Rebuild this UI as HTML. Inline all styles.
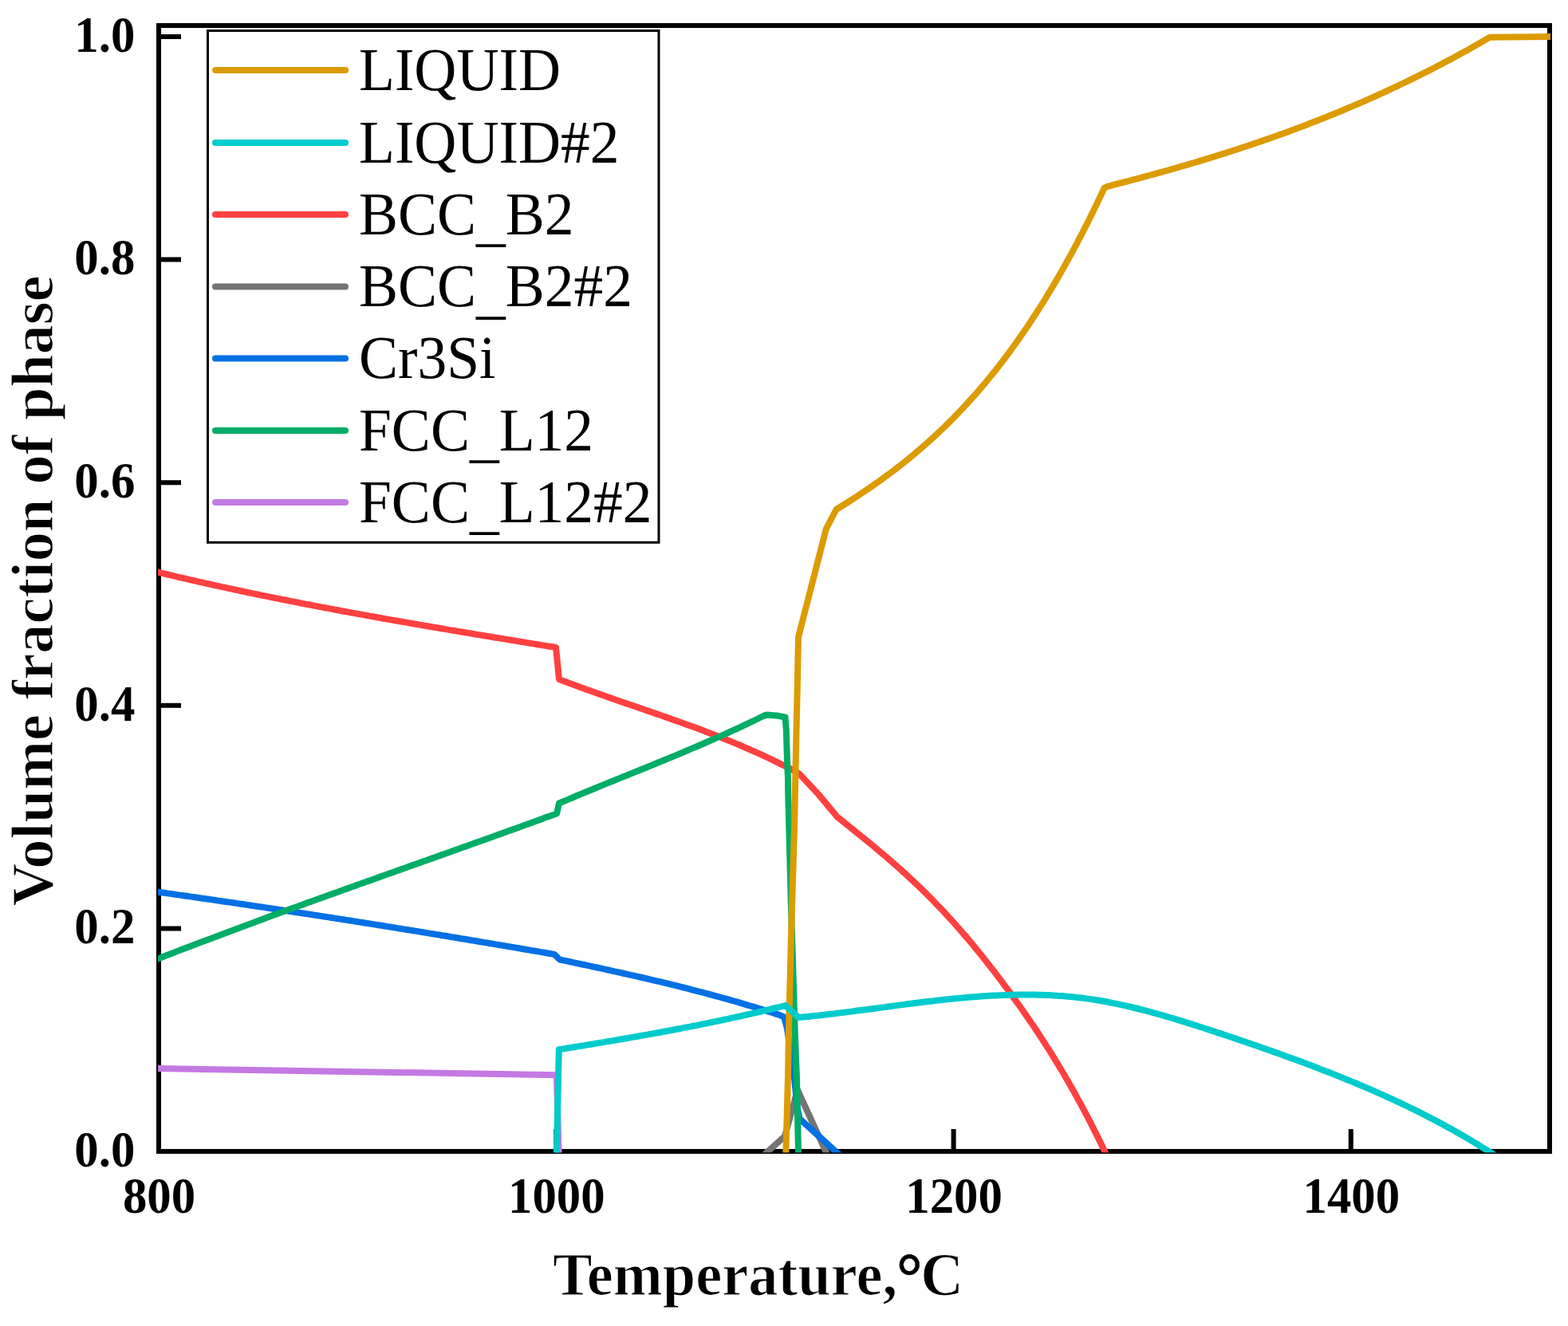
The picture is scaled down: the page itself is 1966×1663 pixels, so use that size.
<!DOCTYPE html><html><head><meta charset="utf-8"><style>html,body{margin:0;padding:0;background:#fff}svg{display:block}</style></head><body><svg width="1966" height="1663" viewBox="0 0 1966 1663">
<rect x="0" y="0" width="1966" height="1663" fill="#fff"/>
<rect x="199" y="32" width="1744" height="1412" fill="none" stroke="#000" stroke-width="6"/>
<path d="M199,1164.4 H227 M199,884.8 H227 M199,605.2 H227 M199,325.6 H227 M199,46.0 H227 M697.3,1444 V1416 M1195.6,1444 V1416 M1693.8,1444 V1416" stroke="#000" stroke-width="6" fill="none"/>
<defs><clipPath id="pc"><rect x="198" y="0" width="1746" height="1445.5"/></clipPath></defs><g clip-path="url(#pc)">
<path d="M190.0,715.7 L198.0,717.6 L202.0,718.6 L206.0,719.5 L210.1,720.5 L214.1,721.4 L218.1,722.4 L222.1,723.3 L226.2,724.3 L230.2,725.2 L234.2,726.1 L238.2,727.1 L242.3,728.0 L246.3,728.9 L250.3,729.8 L254.3,730.7 L258.4,731.6 L262.4,732.5 L266.4,733.4 L270.4,734.3 L274.5,735.2 L278.5,736.1 L282.5,736.9 L286.5,737.8 L290.6,738.7 L294.6,739.5 L298.6,740.4 L302.6,741.3 L306.7,742.1 L310.7,743.0 L314.7,743.8 L318.7,744.6 L322.8,745.5 L326.8,746.3 L330.8,747.1 L334.8,747.9 L338.8,748.8 L342.9,749.6 L346.9,750.4 L350.9,751.2 L354.9,752.0 L359.0,752.8 L363.0,753.6 L367.0,754.4 L371.0,755.2 L375.1,756.0 L379.1,756.8 L383.1,757.6 L387.1,758.3 L391.2,759.1 L395.2,759.9 L399.2,760.7 L403.2,761.4 L407.3,762.2 L411.3,762.9 L415.3,763.7 L419.3,764.5 L423.4,765.2 L427.4,766.0 L431.4,766.7 L435.4,767.4 L439.5,768.2 L443.5,768.9 L447.5,769.7 L451.5,770.4 L455.5,771.1 L459.6,771.8 L463.6,772.6 L467.6,773.3 L471.6,774.0 L475.7,774.7 L479.7,775.5 L483.7,776.2 L487.7,776.9 L491.8,777.6 L495.8,778.3 L499.8,779.0 L503.8,779.7 L507.9,780.4 L511.9,781.1 L515.9,781.8 L519.9,782.5 L524.0,783.2 L528.0,783.9 L532.0,784.6 L536.0,785.3 L540.1,786.0 L544.1,786.7 L548.1,787.3 L552.1,788.0 L556.2,788.7 L560.2,789.4 L564.2,790.1 L568.2,790.7 L572.2,791.4 L576.3,792.1 L580.3,792.8 L584.3,793.4 L588.3,794.1 L592.4,794.8 L596.4,795.5 L600.4,796.1 L604.4,796.8 L608.5,797.5 L612.5,798.1 L616.5,798.8 L620.5,799.5 L624.6,800.1 L628.6,800.8 L632.6,801.4 L636.6,802.1 L640.7,802.8 L644.7,803.4 L648.7,804.1 L652.7,804.7 L656.8,805.4 L660.8,806.1 L664.8,806.7 L668.8,807.4 L672.9,808.0 L676.9,808.7 L680.9,809.4 L684.9,810.0 L689.0,810.7 L693.0,811.3 L697.0,812.0 L701.0,851.9 L705.0,853.4 L709.1,855.0 L713.1,856.5 L717.1,858.0 L721.2,859.5 L725.2,861.0 L729.2,862.5 L733.3,863.9 L737.3,865.4 L741.3,866.8 L745.4,868.3 L749.4,869.7 L753.4,871.1 L757.5,872.6 L761.5,874.0 L765.5,875.4 L769.6,876.8 L773.6,878.2 L777.6,879.6 L781.7,881.0 L785.7,882.4 L789.7,883.8 L793.8,885.1 L797.8,886.5 L801.8,887.9 L805.9,889.3 L809.9,890.7 L813.9,892.1 L818.0,893.5 L822.0,894.9 L826.0,896.3 L830.1,897.7 L834.1,899.1 L838.1,900.5 L842.2,901.9 L846.2,903.4 L850.2,904.8 L854.3,906.3 L858.3,907.7 L862.4,909.2 L866.4,910.6 L870.4,912.1 L874.5,913.6 L878.5,915.1 L882.5,916.6 L886.6,918.2 L890.6,919.7 L894.6,921.3 L898.7,922.8 L902.7,924.4 L906.7,926.0 L910.8,927.7 L914.8,929.3 L918.8,930.9 L922.9,932.6 L926.9,934.3 L930.9,936.0 L935.0,937.8 L939.0,939.5 L943.0,941.3 L947.1,943.1 L951.1,944.9 L955.1,946.7 L959.2,948.6 L963.2,950.5 L967.2,952.4 L971.3,954.3 L975.3,956.3 L979.3,958.3 L983.4,960.3 L987.4,962.4 L991.4,964.4 L995.5,966.5 L999.5,968.7 L1003.8,972.2 L1025.5,995.4 L1050.0,1024.8 L1054.0,1027.9 L1058.0,1031.2 L1062.1,1034.4 L1066.1,1037.6 L1070.1,1040.8 L1074.1,1044.1 L1078.2,1047.3 L1082.2,1050.6 L1086.2,1053.9 L1090.2,1057.2 L1094.3,1060.5 L1098.3,1063.8 L1102.3,1067.2 L1106.3,1070.6 L1110.4,1074.0 L1114.4,1077.5 L1118.4,1081.0 L1122.4,1084.5 L1126.5,1088.1 L1130.5,1091.7 L1134.5,1095.3 L1138.5,1099.0 L1142.5,1102.7 L1146.6,1106.5 L1150.6,1110.3 L1154.6,1114.2 L1158.6,1118.1 L1162.7,1122.1 L1166.7,1126.1 L1170.7,1130.2 L1174.7,1134.4 L1178.8,1138.6 L1182.8,1142.8 L1186.8,1147.2 L1190.8,1151.6 L1194.9,1156.0 L1198.9,1160.6 L1202.9,1165.1 L1206.9,1169.8 L1211.0,1174.5 L1215.0,1179.2 L1219.0,1184.0 L1223.0,1188.9 L1227.0,1193.8 L1231.1,1198.8 L1235.1,1203.9 L1239.1,1209.0 L1243.1,1214.1 L1247.2,1219.3 L1251.2,1224.6 L1255.2,1229.9 L1259.2,1235.3 L1263.3,1240.7 L1267.3,1246.2 L1271.3,1251.8 L1275.3,1257.3 L1279.4,1263.0 L1283.4,1268.7 L1287.4,1274.5 L1291.4,1280.4 L1295.5,1286.3 L1299.5,1292.3 L1303.5,1298.4 L1307.5,1304.6 L1311.5,1310.8 L1315.6,1317.2 L1319.6,1323.6 L1323.6,1330.1 L1327.6,1336.8 L1331.7,1343.5 L1335.7,1350.3 L1339.7,1357.3 L1343.7,1364.3 L1347.8,1371.5 L1351.8,1378.8 L1355.8,1386.2 L1359.8,1393.7 L1363.9,1401.4 L1367.9,1409.2 L1371.9,1417.1 L1375.9,1425.1 L1380.0,1433.3 L1384.0,1441.7 L1388.0,1450.2" fill="none" stroke="#FF4040" stroke-width="8" stroke-linejoin="round" stroke-linecap="butt"/>
<path d="M954.0,1452.0 L984.0,1425.0 L1000.0,1367.0 L1039.0,1452.0" fill="none" stroke="#747474" stroke-width="8" stroke-linejoin="round" stroke-linecap="butt"/>
<path d="M190.0,1117.5 L198.0,1118.7 L202.0,1119.2 L206.0,1119.8 L210.0,1120.4 L214.0,1120.9 L218.0,1121.5 L222.0,1122.1 L226.1,1122.6 L230.1,1123.2 L234.1,1123.8 L238.1,1124.4 L242.1,1124.9 L246.1,1125.5 L250.1,1126.1 L254.1,1126.7 L258.1,1127.3 L262.1,1127.8 L266.1,1128.4 L270.1,1129.0 L274.2,1129.6 L278.2,1130.2 L282.2,1130.8 L286.2,1131.4 L290.2,1131.9 L294.2,1132.5 L298.2,1133.1 L302.2,1133.7 L306.2,1134.3 L310.2,1134.9 L314.2,1135.5 L318.2,1136.1 L322.2,1136.7 L326.3,1137.3 L330.3,1137.9 L334.3,1138.5 L338.3,1139.1 L342.3,1139.7 L346.3,1140.3 L350.3,1140.9 L354.3,1141.5 L358.3,1142.1 L362.3,1142.7 L366.3,1143.3 L370.3,1144.0 L374.4,1144.6 L378.4,1145.2 L382.4,1145.8 L386.4,1146.4 L390.4,1147.0 L394.4,1147.6 L398.4,1148.3 L402.4,1148.9 L406.4,1149.5 L410.4,1150.1 L414.4,1150.7 L418.4,1151.4 L422.5,1152.0 L426.5,1152.6 L430.5,1153.2 L434.5,1153.9 L438.5,1154.5 L442.5,1155.1 L446.5,1155.8 L450.5,1156.4 L454.5,1157.0 L458.5,1157.7 L462.5,1158.3 L466.5,1158.9 L470.5,1159.6 L474.6,1160.2 L478.6,1160.8 L482.6,1161.5 L486.6,1162.1 L490.6,1162.8 L494.6,1163.4 L498.6,1164.1 L502.6,1164.7 L506.6,1165.4 L510.6,1166.0 L514.6,1166.6 L518.6,1167.3 L522.7,1167.9 L526.7,1168.6 L530.7,1169.3 L534.7,1169.9 L538.7,1170.6 L542.7,1171.2 L546.7,1171.9 L550.7,1172.5 L554.7,1173.2 L558.7,1173.8 L562.7,1174.5 L566.7,1175.2 L570.8,1175.8 L574.8,1176.5 L578.8,1177.2 L582.8,1177.8 L586.8,1178.5 L590.8,1179.2 L594.8,1179.8 L598.8,1180.5 L602.8,1181.2 L606.8,1181.9 L610.8,1182.5 L614.8,1183.2 L618.8,1183.9 L622.9,1184.6 L626.9,1185.2 L630.9,1185.9 L634.9,1186.6 L638.9,1187.3 L642.9,1187.9 L646.9,1188.6 L650.9,1189.3 L654.9,1190.0 L658.9,1190.7 L662.9,1191.4 L666.9,1192.1 L671.0,1192.8 L675.0,1193.4 L679.0,1194.1 L683.0,1194.8 L687.0,1195.5 L691.0,1196.2 L695.0,1196.9 L701.8,1203.5 L705.8,1204.3 L709.9,1205.2 L713.9,1206.0 L718.0,1206.9 L722.0,1207.8 L726.1,1208.6 L730.1,1209.5 L734.2,1210.3 L738.2,1211.2 L742.3,1212.1 L746.3,1213.0 L750.4,1213.8 L754.4,1214.7 L758.5,1215.6 L762.5,1216.5 L766.6,1217.4 L770.6,1218.3 L774.6,1219.1 L778.7,1220.0 L782.7,1221.0 L786.8,1221.9 L790.8,1222.8 L794.9,1223.7 L798.9,1224.6 L803.0,1225.5 L807.0,1226.5 L811.1,1227.4 L815.1,1228.4 L819.2,1229.3 L823.2,1230.3 L827.3,1231.2 L831.3,1232.2 L835.4,1233.2 L839.4,1234.2 L843.4,1235.2 L847.5,1236.2 L851.5,1237.2 L855.6,1238.2 L859.6,1239.2 L863.7,1240.2 L867.7,1241.3 L871.8,1242.3 L875.8,1243.4 L879.9,1244.4 L883.9,1245.5 L888.0,1246.6 L892.0,1247.7 L896.1,1248.8 L900.1,1249.9 L904.2,1251.0 L908.2,1252.1 L912.2,1253.2 L916.3,1254.4 L920.3,1255.5 L924.4,1256.7 L928.4,1257.9 L932.5,1259.1 L936.5,1260.3 L940.6,1261.5 L944.6,1262.7 L948.7,1263.9 L952.7,1265.2 L956.8,1266.4 L960.8,1267.7 L964.9,1269.0 L968.9,1270.3 L973.0,1271.6 L977.0,1272.9 L983.0,1275.5 L987.0,1290.0 L995.8,1350.0 L999.7,1389.0 L1002.5,1403.0 L1056.5,1452.0" fill="none" stroke="#0370E3" stroke-width="8" stroke-linejoin="round" stroke-linecap="butt"/>
<path d="M190.0,1205.6 L198.0,1202.4 L202.0,1200.9 L206.0,1199.3 L210.0,1197.8 L214.0,1196.2 L218.0,1194.7 L222.0,1193.1 L226.0,1191.6 L230.0,1190.1 L234.0,1188.5 L238.0,1187.0 L242.0,1185.5 L246.0,1184.0 L250.0,1182.4 L254.0,1180.9 L258.0,1179.4 L262.0,1177.9 L266.0,1176.4 L270.0,1174.9 L274.0,1173.4 L278.0,1171.9 L282.0,1170.4 L286.0,1168.9 L290.0,1167.4 L294.0,1165.9 L298.0,1164.4 L302.0,1162.9 L306.0,1161.4 L310.0,1159.9 L314.0,1158.5 L318.0,1157.0 L322.0,1155.5 L326.0,1154.0 L330.0,1152.6 L334.0,1151.1 L338.0,1149.6 L342.0,1148.1 L346.0,1146.7 L350.0,1145.2 L354.0,1143.8 L358.0,1142.3 L362.0,1140.8 L366.0,1139.4 L370.0,1137.9 L374.0,1136.5 L378.0,1135.0 L382.0,1133.6 L386.0,1132.1 L390.0,1130.7 L394.0,1129.2 L398.0,1127.8 L402.0,1126.4 L406.0,1124.9 L410.0,1123.5 L414.0,1122.0 L418.0,1120.6 L422.0,1119.2 L426.0,1117.7 L430.0,1116.3 L434.0,1114.9 L438.0,1113.4 L442.0,1112.0 L446.0,1110.6 L450.1,1109.1 L454.1,1107.7 L458.1,1106.3 L462.1,1104.9 L466.1,1103.4 L470.1,1102.0 L474.1,1100.6 L478.1,1099.1 L482.1,1097.7 L486.1,1096.3 L490.1,1094.9 L494.1,1093.5 L498.1,1092.0 L502.1,1090.6 L506.1,1089.2 L510.1,1087.8 L514.1,1086.3 L518.1,1084.9 L522.1,1083.5 L526.1,1082.1 L530.1,1080.6 L534.1,1079.2 L538.1,1077.8 L542.1,1076.4 L546.1,1074.9 L550.1,1073.5 L554.1,1072.1 L558.1,1070.7 L562.1,1069.2 L566.1,1067.8 L570.1,1066.4 L574.1,1065.0 L578.1,1063.5 L582.1,1062.1 L586.1,1060.7 L590.1,1059.3 L594.1,1057.8 L598.1,1056.4 L602.1,1055.0 L606.1,1053.5 L610.1,1052.1 L614.1,1050.7 L618.1,1049.2 L622.1,1047.8 L626.1,1046.4 L630.1,1044.9 L634.1,1043.5 L638.1,1042.0 L642.1,1040.6 L646.1,1039.2 L650.1,1037.7 L654.1,1036.3 L658.1,1034.8 L662.1,1033.4 L666.1,1031.9 L670.1,1030.5 L674.1,1029.0 L678.1,1027.6 L682.1,1026.1 L686.1,1024.6 L690.1,1023.2 L694.1,1021.7 L698.1,1020.3 L700.9,1007.5 L704.9,1005.8 L708.9,1004.1 L713.0,1002.4 L717.0,1000.7 L721.0,999.0 L725.0,997.3 L729.0,995.6 L733.0,994.0 L737.1,992.3 L741.1,990.7 L745.1,989.0 L749.1,987.4 L753.1,985.7 L757.1,984.1 L761.2,982.4 L765.2,980.8 L769.2,979.2 L773.2,977.5 L777.2,975.9 L781.2,974.3 L785.3,972.7 L789.3,971.0 L793.3,969.4 L797.3,967.8 L801.3,966.2 L805.3,964.5 L809.4,962.9 L813.4,961.3 L817.4,959.6 L821.4,958.0 L825.4,956.3 L829.5,954.7 L833.5,953.0 L837.5,951.4 L841.5,949.7 L845.5,948.1 L849.5,946.4 L853.6,944.7 L857.6,943.0 L861.6,941.3 L865.6,939.6 L869.6,937.9 L873.6,936.2 L877.7,934.5 L881.7,932.8 L885.7,931.0 L889.7,929.3 L893.7,927.5 L897.7,925.7 L901.8,923.9 L905.8,922.2 L909.8,920.3 L913.8,918.5 L917.8,916.7 L921.8,914.8 L925.9,913.0 L929.9,911.1 L933.9,909.2 L937.9,907.3 L941.9,905.4 L945.9,903.5 L950.0,901.5 L954.0,899.5 L958.0,897.5 L962.0,896.5 L976.0,897.8 L984.5,899.5 L985.8,915.6 L986.9,951.2 L988.0,976.1 L988.3,1000.0 L992.0,1140.0 L996.9,1300.0 L998.9,1350.0 L1001.2,1452.0" fill="none" stroke="#00AD66" stroke-width="8" stroke-linejoin="round" stroke-linecap="butt"/>
<path d="M190.0,1339.9 L697.9,1348.2 L700.8,1452.0" fill="none" stroke="#C379E3" stroke-width="8" stroke-linejoin="round" stroke-linecap="butt"/>
<path d="M985.2,1452.0 L988.0,1350.0 L989.0,1290.0 L992.9,1140.0 L996.1,1035.0 L997.9,945.0 L999.8,860.0 L1001.0,799.1 L1035.9,663.1 L1048.5,639.0 L1052.5,636.5 L1056.5,634.0 L1060.5,631.5 L1064.5,629.0 L1068.5,626.4 L1072.5,623.8 L1076.5,621.2 L1080.5,618.5 L1084.5,615.8 L1088.5,613.1 L1092.5,610.4 L1096.5,607.6 L1100.5,604.8 L1104.5,601.9 L1108.5,599.0 L1112.5,596.1 L1116.5,593.1 L1120.5,590.1 L1124.5,587.0 L1128.5,583.9 L1132.5,580.8 L1136.5,577.6 L1140.5,574.3 L1144.5,571.0 L1148.5,567.7 L1152.5,564.3 L1156.5,560.8 L1160.5,557.3 L1164.5,553.8 L1168.5,550.1 L1172.5,546.5 L1176.5,542.7 L1180.5,538.9 L1184.5,535.1 L1188.5,531.1 L1192.5,527.2 L1196.5,523.1 L1200.5,519.0 L1204.5,514.8 L1208.5,510.5 L1212.5,506.2 L1216.5,501.8 L1220.6,497.3 L1224.6,492.8 L1228.6,488.2 L1232.6,483.5 L1236.6,478.7 L1240.6,473.8 L1244.6,468.9 L1248.6,463.9 L1252.6,458.8 L1256.6,453.6 L1260.6,448.3 L1264.6,443.0 L1268.6,437.5 L1272.6,432.0 L1276.6,426.4 L1280.6,420.6 L1284.6,414.8 L1288.6,408.9 L1292.6,402.9 L1296.6,396.8 L1300.6,390.6 L1304.6,384.4 L1308.6,378.0 L1312.6,371.5 L1316.6,364.9 L1320.6,358.2 L1324.6,351.4 L1328.6,344.5 L1332.6,337.4 L1336.6,330.3 L1340.6,323.1 L1344.6,315.7 L1348.6,308.3 L1352.6,300.7 L1356.6,293.0 L1360.6,285.2 L1364.6,277.3 L1368.6,269.2 L1372.6,261.1 L1376.6,252.8 L1380.6,244.4 L1384.6,235.8 L1388.6,233.8 L1392.7,232.8 L1396.7,231.7 L1400.7,230.7 L1404.7,229.7 L1408.8,228.6 L1412.8,227.6 L1416.8,226.5 L1420.9,225.4 L1424.9,224.4 L1428.9,223.3 L1432.9,222.2 L1437.0,221.1 L1441.0,220.0 L1445.0,218.9 L1449.1,217.8 L1453.1,216.7 L1457.1,215.6 L1461.1,214.5 L1465.2,213.3 L1469.2,212.2 L1473.2,211.1 L1477.3,209.9 L1481.3,208.7 L1485.3,207.6 L1489.3,206.4 L1493.4,205.2 L1497.4,204.0 L1501.4,202.8 L1505.4,201.6 L1509.5,200.4 L1513.5,199.1 L1517.5,197.9 L1521.6,196.7 L1525.6,195.4 L1529.6,194.1 L1533.6,192.9 L1537.7,191.6 L1541.7,190.3 L1545.7,189.0 L1549.8,187.7 L1553.8,186.4 L1557.8,185.0 L1561.8,183.7 L1565.9,182.4 L1569.9,181.0 L1573.9,179.6 L1578.0,178.3 L1582.0,176.9 L1586.0,175.5 L1590.0,174.1 L1594.1,172.7 L1598.1,171.2 L1602.1,169.8 L1606.2,168.4 L1610.2,166.9 L1614.2,165.4 L1618.2,163.9 L1622.3,162.5 L1626.3,161.0 L1630.3,159.4 L1634.4,157.9 L1638.4,156.4 L1642.4,154.8 L1646.4,153.3 L1650.5,151.7 L1654.5,150.1 L1658.5,148.5 L1662.6,146.9 L1666.6,145.3 L1670.6,143.7 L1674.6,142.0 L1678.7,140.4 L1682.7,138.7 L1686.7,137.0 L1690.8,135.3 L1694.8,133.6 L1698.8,131.9 L1702.8,130.2 L1706.9,128.4 L1710.9,126.7 L1714.9,124.9 L1719.0,123.1 L1723.0,121.3 L1727.0,119.5 L1731.0,117.7 L1735.1,115.8 L1739.1,114.0 L1743.1,112.1 L1747.2,110.2 L1751.2,108.3 L1755.2,106.4 L1759.2,104.5 L1763.3,102.6 L1767.3,100.6 L1771.3,98.6 L1775.3,96.7 L1779.4,94.7 L1783.4,92.7 L1787.4,90.6 L1791.5,88.6 L1795.5,86.5 L1799.5,84.5 L1803.5,82.4 L1807.6,80.3 L1811.6,78.1 L1815.6,76.0 L1819.7,73.9 L1823.7,71.7 L1827.7,69.5 L1831.7,67.3 L1835.8,65.1 L1839.8,62.9 L1843.8,60.6 L1847.9,58.3 L1851.9,56.1 L1855.9,53.8 L1859.9,51.4 L1864.0,49.1 L1868.0,46.8 L1950.0,46.0" fill="none" stroke="#DC9B00" stroke-width="8" stroke-linejoin="round" stroke-linecap="butt"/>
<path d="M697.8,1452.0 L700.8,1316.3 L704.8,1315.6 L708.8,1315.0 L712.8,1314.3 L716.8,1313.7 L720.8,1313.0 L724.8,1312.4 L728.8,1311.7 L732.8,1311.1 L736.8,1310.4 L740.8,1309.7 L744.8,1309.1 L748.8,1308.4 L752.8,1307.7 L756.8,1307.1 L760.8,1306.4 L764.8,1305.7 L768.8,1305.1 L772.8,1304.4 L776.8,1303.7 L780.8,1303.0 L784.8,1302.3 L788.8,1301.6 L792.8,1300.9 L796.8,1300.2 L800.8,1299.5 L804.8,1298.8 L808.8,1298.1 L812.8,1297.4 L816.8,1296.7 L820.8,1295.9 L824.8,1295.2 L828.8,1294.5 L832.8,1293.7 L836.8,1293.0 L840.8,1292.2 L844.8,1291.5 L848.8,1290.7 L852.8,1290.0 L856.8,1289.2 L860.8,1288.4 L864.8,1287.6 L868.8,1286.8 L872.8,1286.1 L876.8,1285.3 L880.8,1284.4 L884.8,1283.6 L888.8,1282.8 L892.8,1282.0 L896.8,1281.2 L900.8,1280.3 L904.8,1279.5 L908.8,1278.6 L912.8,1277.8 L916.8,1276.9 L920.8,1276.1 L924.8,1275.2 L928.8,1274.3 L932.8,1273.4 L936.8,1272.5 L940.8,1271.6 L944.8,1270.7 L948.8,1269.8 L952.8,1268.8 L956.8,1267.9 L960.8,1266.9 L964.8,1266.0 L968.8,1265.0 L972.8,1264.0 L976.8,1263.1 L980.8,1262.1 L984.8,1261.1 L1001.0,1276.1 L1005.0,1275.7 L1009.0,1275.3 L1013.0,1274.9 L1017.1,1274.5 L1021.1,1274.1 L1025.1,1273.7 L1029.1,1273.2 L1033.1,1272.8 L1037.1,1272.3 L1041.1,1271.8 L1045.2,1271.4 L1049.2,1270.9 L1053.2,1270.4 L1057.2,1269.9 L1061.2,1269.4 L1065.2,1268.9 L1069.2,1268.4 L1073.2,1267.8 L1077.3,1267.3 L1081.3,1266.8 L1085.3,1266.3 L1089.3,1265.7 L1093.3,1265.2 L1097.3,1264.7 L1101.3,1264.1 L1105.4,1263.6 L1109.4,1263.1 L1113.4,1262.5 L1117.4,1262.0 L1121.4,1261.4 L1125.4,1260.9 L1129.4,1260.4 L1133.5,1259.9 L1137.5,1259.3 L1141.5,1258.8 L1145.5,1258.3 L1149.5,1257.8 L1153.5,1257.3 L1157.5,1256.8 L1161.5,1256.3 L1165.6,1255.8 L1169.6,1255.4 L1173.6,1254.9 L1177.6,1254.4 L1181.6,1254.0 L1185.6,1253.6 L1189.6,1253.1 L1193.7,1252.7 L1197.7,1252.3 L1201.7,1251.9 L1205.7,1251.6 L1209.7,1251.2 L1213.7,1250.8 L1217.7,1250.5 L1221.8,1250.2 L1225.8,1249.9 L1229.8,1249.6 L1233.8,1249.3 L1237.8,1249.1 L1241.8,1248.8 L1245.8,1248.6 L1249.8,1248.4 L1253.9,1248.2 L1257.9,1248.1 L1261.9,1247.9 L1265.9,1247.8 L1269.9,1247.7 L1273.9,1247.6 L1277.9,1247.5 L1282.0,1247.5 L1286.0,1247.5 L1290.0,1247.5 L1294.0,1247.5 L1298.0,1247.6 L1302.0,1247.7 L1306.0,1247.8 L1310.1,1247.9 L1314.1,1248.1 L1318.1,1248.3 L1322.1,1248.5 L1326.1,1248.8 L1330.1,1249.0 L1334.1,1249.3 L1338.2,1249.7 L1342.2,1250.0 L1346.2,1250.4 L1350.2,1250.9 L1354.2,1251.3 L1358.2,1251.8 L1362.2,1252.4 L1366.2,1252.9 L1370.3,1253.5 L1374.3,1254.1 L1378.3,1254.8 L1382.3,1255.5 L1386.3,1256.2 L1390.3,1257.0 L1394.3,1257.8 L1398.4,1258.6 L1402.4,1259.4 L1406.4,1260.3 L1410.4,1261.2 L1414.4,1262.1 L1418.4,1263.0 L1422.4,1264.0 L1426.5,1265.0 L1430.5,1266.0 L1434.5,1267.0 L1438.5,1268.1 L1442.5,1269.2 L1446.5,1270.3 L1450.5,1271.4 L1454.5,1272.5 L1458.6,1273.7 L1462.6,1274.8 L1466.6,1276.0 L1470.6,1277.2 L1474.6,1278.4 L1478.6,1279.6 L1482.6,1280.9 L1486.7,1282.1 L1490.7,1283.4 L1494.7,1284.6 L1498.7,1285.9 L1502.7,1287.2 L1506.7,1288.5 L1510.7,1289.8 L1514.8,1291.1 L1518.8,1292.4 L1522.8,1293.7 L1526.8,1295.1 L1530.8,1296.4 L1534.8,1297.7 L1538.8,1299.1 L1542.8,1300.4 L1546.9,1301.8 L1550.9,1303.1 L1554.9,1304.5 L1558.9,1305.9 L1562.9,1307.2 L1566.9,1308.6 L1570.9,1310.0 L1575.0,1311.4 L1579.0,1312.8 L1583.0,1314.2 L1587.0,1315.6 L1591.0,1317.0 L1595.0,1318.4 L1599.0,1319.9 L1603.1,1321.3 L1607.1,1322.8 L1611.1,1324.2 L1615.1,1325.7 L1619.1,1327.1 L1623.1,1328.6 L1627.1,1330.1 L1631.2,1331.6 L1635.2,1333.1 L1639.2,1334.6 L1643.2,1336.1 L1647.2,1337.6 L1651.2,1339.1 L1655.2,1340.7 L1659.2,1342.2 L1663.3,1343.8 L1667.3,1345.3 L1671.3,1346.9 L1675.3,1348.5 L1679.3,1350.1 L1683.3,1351.7 L1687.3,1353.4 L1691.4,1355.0 L1695.4,1356.6 L1699.4,1358.3 L1703.4,1360.0 L1707.4,1361.7 L1711.4,1363.4 L1715.4,1365.1 L1719.5,1366.8 L1723.5,1368.6 L1727.5,1370.4 L1731.5,1372.1 L1735.5,1373.9 L1739.5,1375.8 L1743.5,1377.6 L1747.5,1379.4 L1751.6,1381.3 L1755.6,1383.2 L1759.6,1385.1 L1763.6,1387.0 L1767.6,1389.0 L1771.6,1390.9 L1775.6,1392.9 L1779.7,1394.9 L1783.7,1396.9 L1787.7,1399.0 L1791.7,1401.1 L1795.7,1403.1 L1799.7,1405.3 L1803.7,1407.4 L1807.8,1409.5 L1811.8,1411.7 L1815.8,1413.9 L1819.8,1416.1 L1823.8,1418.4 L1827.8,1420.7 L1831.8,1423.0 L1835.8,1425.3 L1839.9,1427.6 L1843.9,1430.0 L1847.9,1432.4 L1851.9,1434.8 L1855.9,1437.3 L1859.9,1439.8 L1863.9,1442.3 L1868.0,1444.8 L1872.0,1447.4 L1876.0,1450.0 L1880.0,1452.6" fill="none" stroke="#00CBCC" stroke-width="8" stroke-linejoin="round" stroke-linecap="butt"/>
</g>
<text transform="translate(169.3,1462.7) scale(0.975,1)" font-family="'Liberation Serif',serif" font-weight="bold" font-size="62.4" text-anchor="end">0.0</text>
<text transform="translate(169.3,1183.1) scale(0.975,1)" font-family="'Liberation Serif',serif" font-weight="bold" font-size="62.4" text-anchor="end">0.2</text>
<text transform="translate(169.3,903.5) scale(0.975,1)" font-family="'Liberation Serif',serif" font-weight="bold" font-size="62.4" text-anchor="end">0.4</text>
<text transform="translate(169.3,623.9) scale(0.975,1)" font-family="'Liberation Serif',serif" font-weight="bold" font-size="62.4" text-anchor="end">0.6</text>
<text transform="translate(169.3,344.3) scale(0.975,1)" font-family="'Liberation Serif',serif" font-weight="bold" font-size="62.4" text-anchor="end">0.8</text>
<text transform="translate(169.3,64.7) scale(0.975,1)" font-family="'Liberation Serif',serif" font-weight="bold" font-size="62.4" text-anchor="end">1.0</text>
<text transform="translate(199.5,1520.7) scale(0.975,1)" font-family="'Liberation Serif',serif" font-weight="bold" font-size="62.4" text-anchor="middle">800</text>
<text transform="translate(697.8,1520.7) scale(0.975,1)" font-family="'Liberation Serif',serif" font-weight="bold" font-size="62.4" text-anchor="middle">1000</text>
<text transform="translate(1196.1,1520.7) scale(0.975,1)" font-family="'Liberation Serif',serif" font-weight="bold" font-size="62.4" text-anchor="middle">1200</text>
<text transform="translate(1694.3,1520.7) scale(0.975,1)" font-family="'Liberation Serif',serif" font-weight="bold" font-size="62.4" text-anchor="middle">1400</text>
<text transform="translate(693,1624) scale(0.972,1)" font-family="'Liberation Serif',serif" font-weight="bold" font-size="76.6" stroke="#fff" stroke-width="1.2">Temperature,<tspan font-size="84" stroke="#000" stroke-width="0.6" dy="6" dx="-1">°</tspan><tspan dy="-6" dx="-2.5">C</tspan></text>
<text transform="translate(66,741) rotate(-90) scale(1.003,1)" font-family="'Liberation Serif',serif" font-weight="bold" font-size="74" text-anchor="middle" stroke="#fff" stroke-width="1.2">Volume fraction of phase</text>
<rect x="260.5" y="38.5" width="565.5" height="641.8" fill="#fff" stroke="#000" stroke-width="3"/>
<path d="M270,88 H433" stroke="#DC9B00" stroke-width="8" stroke-linecap="round"/>
<text transform="translate(450,112.7) scale(0.962,1)" font-family="'Liberation Serif',serif" font-size="76.4">LIQUID</text>
<path d="M270,179 H433" stroke="#00CBCC" stroke-width="8" stroke-linecap="round"/>
<text transform="translate(450,203.7) scale(0.962,1)" font-family="'Liberation Serif',serif" font-size="76.4">LIQUID#2</text>
<path d="M270,269 H433" stroke="#FF4040" stroke-width="8" stroke-linecap="round"/>
<text transform="translate(450,293.7) scale(0.962,1)" font-family="'Liberation Serif',serif" font-size="76.4">BCC<tspan dy="6.5">_</tspan><tspan dy="-6.5">B2</tspan></text>
<path d="M270,359.5 H433" stroke="#747474" stroke-width="8" stroke-linecap="round"/>
<text transform="translate(450,384.2) scale(0.962,1)" font-family="'Liberation Serif',serif" font-size="76.4">BCC<tspan dy="6.5">_</tspan><tspan dy="-6.5">B2#2</tspan></text>
<path d="M270,449.5 H433" stroke="#0370E3" stroke-width="8" stroke-linecap="round"/>
<text transform="translate(450,474.2) scale(0.962,1)" font-family="'Liberation Serif',serif" font-size="76.4">Cr3Si</text>
<path d="M270,540 H433" stroke="#00AD66" stroke-width="8" stroke-linecap="round"/>
<text transform="translate(450,564.7) scale(0.962,1)" font-family="'Liberation Serif',serif" font-size="76.4">FCC<tspan dy="6.5">_</tspan><tspan dy="-6.5">L12</tspan></text>
<path d="M270,630 H433" stroke="#C379E3" stroke-width="8" stroke-linecap="round"/>
<text transform="translate(450,654.7) scale(0.962,1)" font-family="'Liberation Serif',serif" font-size="76.4">FCC<tspan dy="6.5">_</tspan><tspan dy="-6.5">L12#2</tspan></text>
</svg></body></html>
